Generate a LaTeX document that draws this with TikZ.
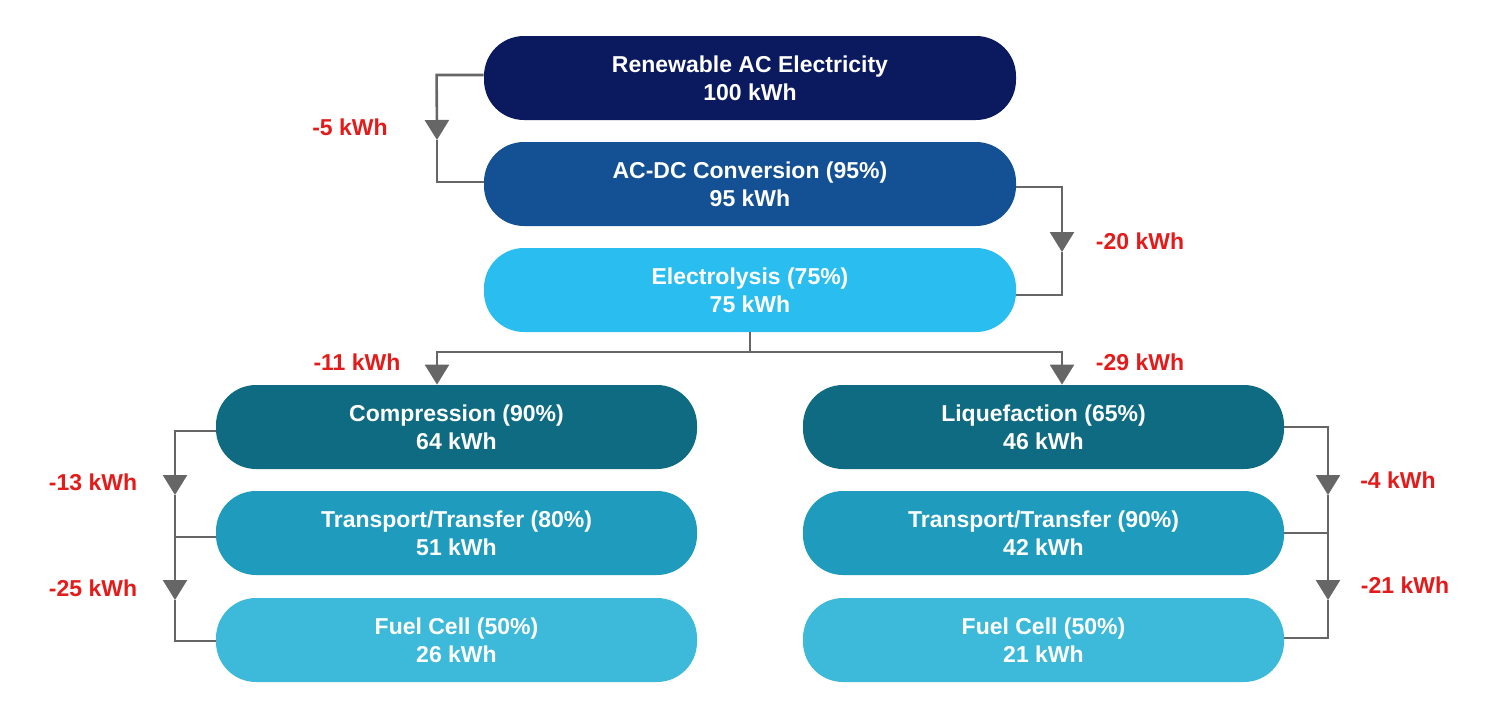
\documentclass[tikz,border=0pt]{standalone}
\usepackage{fontspec}
\setmainfont{Liberation Sans}
\usetikzlibrary{arrows.meta,calc}
\definecolor{cA}{HTML}{0B1A5E}
\definecolor{cB}{HTML}{135094}
\definecolor{cC}{HTML}{2ABDF0}
\definecolor{cD}{HTML}{0E6B82}
\definecolor{cE}{HTML}{1F9BBD}
\definecolor{cF}{HTML}{3DB9DA}
\definecolor{lossred}{HTML}{E31B1B}
\definecolor{linegray}{HTML}{666666}
\tikzset{
 box/.style={rounded corners=20pt,minimum height=42pt,text=white,font=\bfseries\fontsize{11.5}{14}\selectfont,align=center,inner sep=0pt},
 wide/.style={box,minimum width=266pt},
 narrow/.style={box,minimum width=240.5pt},
 conn/.style={draw=linegray,line width=1.3pt},
 tip/.style={conn,-{Triangle[width=12pt,length=10pt]}},
 loss/.style={text=lossred,font=\bfseries\fontsize{11.5}{14}\selectfont}
}
\begin{document}
\begin{tikzpicture}[x=0.5pt,y=-0.5pt]
\useasboundingbox (0,0) rectangle (1500,718);
\node[wide,fill=cA] (re) at (750,78) {Renewable AC Electricity\\100 kWh};
\node[wide,fill=cB] (ac) at (750,184) {AC-DC Conversion (95\%)\\95 kWh};
\node[wide,fill=cC] (el) at (750,290) {Electrolysis (75\%)\\75 kWh};
\node[narrow,fill=cD] (co) at (456.5,427) {Compression (90\%)\\64 kWh};
\node[narrow,fill=cE] (tl) at (456.5,533) {Transport/Transfer (80\%)\\51 kWh};
\node[narrow,fill=cF] (fl) at (456.5,640) {Fuel Cell (50\%)\\26 kWh};
\node[narrow,fill=cD] (li) at (1043.5,427) {Liquefaction (65\%)\\46 kWh};
\node[narrow,fill=cE] (tr) at (1043.5,533) {Transport/Transfer (90\%)\\42 kWh};
\node[narrow,fill=cF] (fr) at (1043.5,640) {Fuel Cell (50\%)\\21 kWh};
% coordinates
\coordinate (a1) at ($(re.west)+(-47,-3)$);
\coordinate (a2) at (437,140);
\coordinate (a3) at (437,182);
\coordinate (b1) at (1062,187);
\coordinate (b2) at (1062,252);
\coordinate (b3) at (1062,295);
\coordinate (c0) at (750,352);
\coordinate (cl) at (437,352);
\coordinate (cr) at (1062,352);
\coordinate (l1) at (175,431);
\coordinate (l2) at (175,495);
\coordinate (l3) at (175,537);
\coordinate (l4) at (175,600);
\coordinate (l5) at (175,641);
\coordinate (r1) at (1328,427);
\coordinate (r2) at (1328,495);
\coordinate (r3) at (1328,533);
\coordinate (r4) at (1328,600);
\coordinate (r5) at (1328,638);
% connectors
\draw[tip] (re.west|-a1) -- (a1) -- (a2);
\draw[conn] (a2) -- (a3) -- (ac.west|-a3);
\draw[tip] (ac.east|-b1) -- (b1) -- (b2);
\draw[conn] (b2) -- (b3) -- (el.east|-b3);
\draw[conn] (el.south) -- (c0);
\draw[tip] (cl) -- (cr) -- (li.north-|cr);
\draw[tip] (cr) -- (cl) -- (co.north-|cl);
\draw[tip] (co.west|-l1) -- (l1) -- (l2);
\draw[tip] (l2) -- (l4);
\draw[conn] (l4) -- (l5) -- (fl.west|-l5);
\draw[conn] (tl.west|-l3) -- (l3);
\draw[tip] (li.east|-r1) -- (r1) -- (r2);
\draw[tip] (r2) -- (r4);
\draw[conn] (r4) -- (r5) -- (fr.east|-r5);
\draw[conn] (tr.east|-r3) -- (r3);
% losses
\node[loss] (v1) at (350,127) {-5 kWh};
\node[loss] (v2) at (1140,241) {-20 kWh};
\node[loss] (v3) at (357,362) {-11 kWh};
\node[loss] (v4) at (1140,362) {-29 kWh};
\node[loss] (v5) at (93,482) {-13 kWh};
\node[loss] (v6) at (93,588) {-25 kWh};
\node[loss] (v7) at (1398,480) {-4 kWh};
\node[loss] (v8) at (1405,585) {-21 kWh};
\end{tikzpicture}
\end{document}
